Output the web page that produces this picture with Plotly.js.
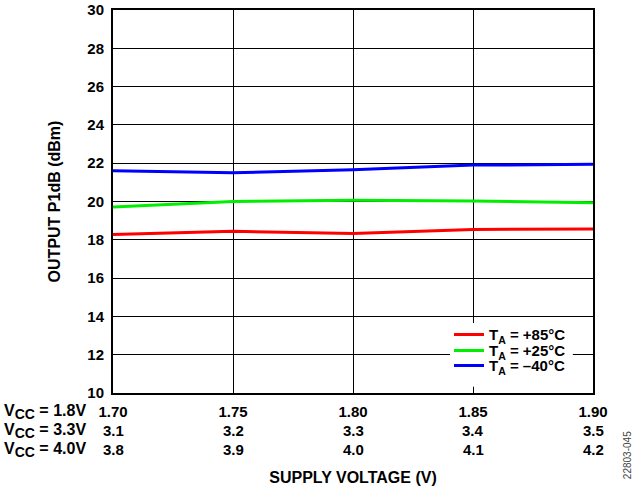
<!DOCTYPE html>
<html><head><meta charset="utf-8">
<script src="https://cdn.plot.ly/plotly-3.0.1.min.js"></script>
<style>html,body{margin:0;padding:0;background:#fff;}#chart{width:632px;height:488px;}</style>
</head><body><div id="chart"></div>
<script>
const xVals = [1.70, 1.75, 1.80, 1.85, 1.90];
const row1Labels = ["1.70", "1.75", "1.80", "1.85", "1.90"];
const row2Labels = ["3.1", "3.2", "3.3", "3.4", "3.5"];
const row3Labels = ["3.8", "3.9", "4.0", "4.1", "4.2"];
const rowNames = ["V<sub><span style='font-size:14px'>CC</span></sub> = 1.8V",
                  "V<sub><span style='font-size:14px'>CC</span></sub> = 3.3V",
                  "V<sub><span style='font-size:14px'>CC</span></sub> = 4.0V"];
const p85 = [18.28, 18.44, 18.33, 18.54, 18.56];
const p25 = [19.71, 20.00, 20.06, 20.03, 19.94];
const m40 = [21.60, 21.50, 21.66, 21.90, 21.94];
const seriesNames = ["T<sub>A</sub> = +85°C", "T<sub>A</sub> = +25°C", "T<sub>A</sub> = –40°C"];
const colors = ["#ff0000", "#00ee00", "#0000ff"];
const yTicks = [10, 12, 14, 16, 18, 20, 22, 24, 26, 28, 30];

const F = "Liberation Sans, Arial, sans-serif";
const b = t => "<b>" + t + "</b>";
const legendIds = ["legend", "legend2", "legend3"];
const legendY = [0.152, 0.110, 0.071];
const series = [p85, p25, m40];
const traces = series.map((s, i) => ({
  x: xVals, y: s, type: "scatter", mode: "lines", name: b(seriesNames[i]),
  line: {color: colors[i], width: 3}, legend: legendIds[i]
}));

const annotations = [];
[row2Labels, row3Labels].forEach((row, r) => {
  row.forEach((t, i) => annotations.push({
    x: xVals[i], xref: "x", y: -0.0992 - r * 0.0496, yref: "paper",
    text: b(t), showarrow: false, xanchor: "center", yanchor: "middle",
    font: {family: F, size: 15, color: "#000"}
  }));
});
rowNames.forEach((t, r) => annotations.push({
  x: -0.231, xref: "paper", y: -0.0496 - r * 0.0496, yref: "paper",
  text: b(t), showarrow: false, xanchor: "left", yanchor: "middle",
  font: {family: F, size: 16, color: "#000"}
}));
annotations.push({
  x: 1.071, xref: "paper", y: -0.162, yref: "paper", text: "22803-045",
  showarrow: false, textangle: -90, xanchor: "center", yanchor: "middle",
  font: {family: F, size: 10, color: "#444"}
});

const legendStyle = y => ({
  x: 0.70, y: y, xanchor: "left", yanchor: "middle",
  bgcolor: "rgba(0,0,0,0)", borderwidth: 0,
  font: {family: F, size: 15, color: "#000"},
  itemwidth: 30, tracegroupgap: 0
});

const layout = {
  width: 632, height: 488,
  margin: {l: 113, r: 39, t: 10, b: 95},
  paper_bgcolor: "#fff", plot_bgcolor: "#fff",
  font: {family: F, color: "#000"},
  showlegend: true,
  legend: legendStyle(legendY[0]),
  legend2: legendStyle(legendY[1]),
  legend3: legendStyle(legendY[2]),
  shapes: [{
    type: "rect", xref: "paper", yref: "paper", x0: 0.702, x1: 0.958, y0: 0.016, y1: 0.183,
    fillcolor: "#fff", line: {width: 0}, layer: "above"
  }],
  xaxis: {
    range: [1.70, 1.90], tickmode: "array", tickvals: xVals, ticktext: row1Labels.map(b),
    showgrid: true, gridcolor: "#000", gridwidth: 1,
    showline: true, linecolor: "#000", linewidth: 2, mirror: true,
    ticks: "", zeroline: false, ticklabelstandoff: 4,
    tickfont: {family: F, size: 15, color: "#000"},
    title: {text: b("SUPPLY VOLTAGE (V)"), standoff: 53, font: {family: F, size: 16, color: "#000"}}
  },
  yaxis: {
    range: [10, 30], tickmode: "array", tickvals: yTicks, ticktext: yTicks.map(v => b(String(v))),
    showgrid: true, gridcolor: "#000", gridwidth: 1,
    showline: true, linecolor: "#000", linewidth: 2, mirror: true,
    ticks: "", zeroline: false, ticklabelstandoff: 4,
    tickfont: {family: F, size: 15, color: "#000"},
    title: {text: b("OUTPUT P1dB (dBm)"), standoff: 23, font: {family: F, size: 16, color: "#000"}}
  },
  annotations: annotations
};
Plotly.newPlot("chart", traces, layout, {displayModeBar: false, staticPlot: true});
</script></body></html>
